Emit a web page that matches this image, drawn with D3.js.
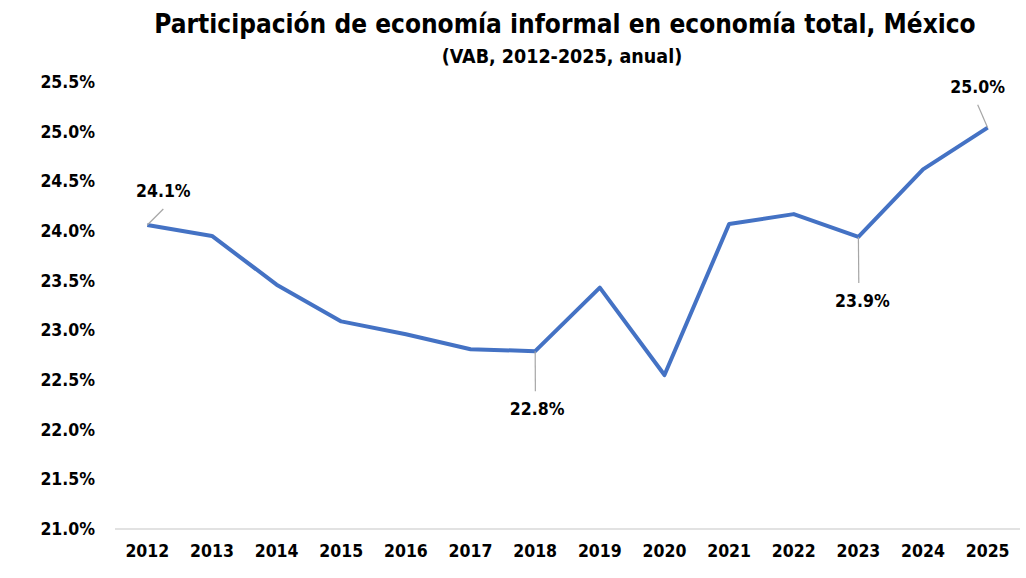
<!DOCTYPE html>
<html>
<head>
<meta charset="utf-8">
<style>
  body { margin: 0; background: #fff; }
  svg text { font-family: "DejaVu Sans Condensed", "DejaVu Sans", sans-serif; font-weight: bold; fill: #000; }
</style>
<script src="https://d3js.org/d3.v7.min.js"></script>
</head>
<body>
<svg width="1026" height="578"></svg>
<script>
const years = ["2012", "2013", "2014", "2015", "2016", "2017", "2018", "2019", "2020", "2021", "2022", "2023", "2024", "2025"];
const shares = [24.06, 23.95, 23.46, 23.09, 22.96, 22.81, 22.79, 23.43, 22.55, 24.07, 24.17, 23.94, 24.62, 25.04];
const yTicks = [21.0, 21.5, 22.0, 22.5, 23.0, 23.5, 24.0, 24.5, 25.0, 25.5];
// which points get a label, and where the label sits (dx, dy from the point)
const labelled = [
  { year: "2012", dx: 16, dy: -34 },
  { year: "2018", dx: 2, dy: 58 },
  { year: "2023", dx: 4, dy: 64 },
  { year: "2025", dx: -10, dy: -41 }
];

const svg = d3.select("svg");
const margin = { left: 115, right: 6, top: 82, bottom: 49 };
const W = 1026, H = 578;

const x = d3.scaleBand().domain(years).range([margin.left, W - margin.right]);
const y = d3.scaleLinear().domain([21, 25.5]).range([H - margin.bottom, margin.top]);

// title
svg.append("text").attr("x", 565).attr("y", 33).attr("text-anchor", "middle")
  .style("font-size", "26px").text("Participación de economía informal en economía total, México");
svg.append("text").attr("x", 562).attr("y", 63).attr("text-anchor", "middle")
  .style("font-size", "19.5px").text("(VAB, 2012-2025, anual)");

// y labels (no gridlines, only the baseline)
svg.append("g").selectAll("text").data(yTicks).join("text")
  .attr("x", 95).attr("y", d => y(d)).attr("dy", "0.35em")
  .attr("text-anchor", "end").style("font-size", "17.5px")
  .text(d => d.toFixed(1) + "%");

svg.append("line")
  .attr("x1", margin.left).attr("x2", W - margin.right)
  .attr("y1", y(21)).attr("y2", y(21))
  .attr("stroke", "#d9d9d9").attr("stroke-width", 1.5);

// x labels
svg.append("g").selectAll("text").data(years).join("text")
  .attr("x", d => x(d) + x.bandwidth() / 2).attr("y", 557)
  .attr("text-anchor", "middle").style("font-size", "17.5px")
  .text(d => d);

const cx = d => x(d) + x.bandwidth() / 2;
const pts = years.map((d, i) => [cx(d), y(shares[i])]);

svg.append("path")
  .attr("d", d3.line()(pts))
  .attr("fill", "none").attr("stroke", "#4472C4")
  .attr("stroke-width", 4).attr("stroke-linejoin", "round");

// data labels with leader lines
labelled.forEach(l => {
  const i = years.indexOf(l.year);
  const px = cx(l.year), py = y(shares[i]);
  const lx = px + l.dx, ly = py + l.dy;
  const up = l.dy < 0;
  svg.append("line")
    .attr("x1", px).attr("y1", py)
    .attr("x2", px + l.dx * (up ? 1 : 0.1)).attr("y2", up ? ly + 18 : ly - 18)
    .attr("stroke", "#a6a6a6").attr("stroke-width", 1.2);
  svg.append("text").attr("x", lx).attr("y", ly).attr("dy", "0.35em")
    .attr("text-anchor", "middle").style("font-size", "17.5px")
    .text(shares[i].toFixed(1) + "%");
});
</script>
</body>
</html>
